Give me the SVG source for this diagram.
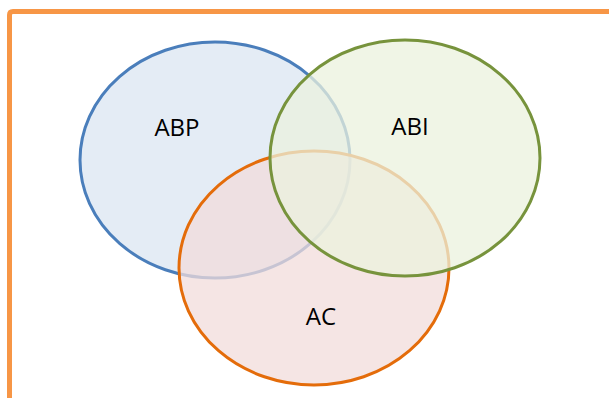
<svg xmlns="http://www.w3.org/2000/svg" width="609" height="398" viewBox="0 0 609 398">
<style>
.set{stroke-width:3;fill-opacity:0.75}
.lbl{font-family:"Open Sans","Liberation Sans",sans-serif;font-size:24px;fill:#000;text-anchor:middle}
</style>
<rect width="609" height="398" fill="#fff"/>
<g id="frame">
<path d="M9.5 398 V15 Q9.5 11.5 13 11.5 H609" fill="none" stroke="#F79646" stroke-width="5"/>
</g>
<g id="abp">
<ellipse class="set" cx="215" cy="160" rx="135" ry="118" fill="#DBE5F1" stroke="#4A7EBB"/>
</g>
<g id="ac">
<ellipse class="set" cx="314" cy="268" rx="135" ry="117" fill="#F2DCDB" stroke="#E46C0A"/>
</g>
<g id="abi">
<ellipse class="set" cx="405" cy="158" rx="135" ry="118" fill="#EBF1DE" stroke="#77933C"/>
</g>
<g id="labels">
<text class="lbl" x="177" y="136">ABP</text>
<text class="lbl" x="410" y="135">ABI</text>
<text class="lbl" x="321" y="325">AC</text>
</g>
</svg>
